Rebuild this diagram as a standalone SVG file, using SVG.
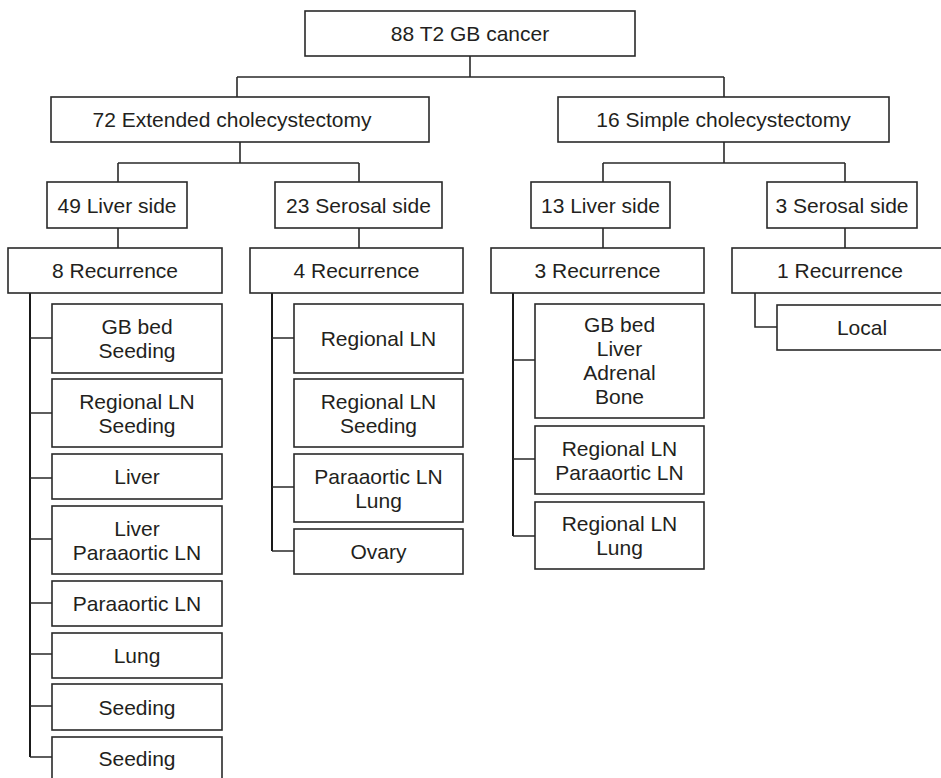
<svg xmlns="http://www.w3.org/2000/svg" width="941" height="778" viewBox="0 0 941 778">
<style>
rect{fill:#fff;stroke:#2a2a2a;stroke-width:1.6}
text{font-family:"Liberation Sans",Arial,sans-serif;font-size:21px;fill:#231f20;text-anchor:middle}
.c{fill:none;stroke:#2a2a2a;stroke-width:1.6}
.t{fill:none;stroke:#1a1a1a;stroke-width:2}
</style>
<rect x="0" y="0" width="941" height="778" style="fill:#fff;stroke:none"/>
<g id="connectors">
<path class="c" d="M470,56V77M237,77H724M237,77V97M724,77V97"/>
<path class="c" d="M240,142V163M118,163H359M118,163V182M359,163V182"/>
<path class="c" d="M724,142V163M603,163H845M603,163V182M845,163V182"/>
<path class="c" d="M118,228V248M359,228V248M603,228V248M845,228V248"/>
<path class="t" d="M30,293V757"/>
<path class="c" d="M30,338H52M30,413H52M30,478H52M30,539H52M30,603H52M30,654H52M30,706H52M30,757H52"/>
<path class="t" d="M272,293V551"/>
<path class="c" d="M272,338H294M272,487H294M272,551H294"/>
<path class="t" d="M513,293V536"/>
<path class="c" d="M513,360H535M513,459H535M513,536H535"/>
<path class="c" d="M755,293V327H777"/>
</g>
<g id="root"><rect x="305" y="11" width="330" height="45"/><text x="470" y="41">88 T2 GB cancer</text></g>
<g id="extended"><rect x="51" y="97" width="378" height="45"/><text x="232" y="127">72 Extended cholecystectomy</text></g>
<g id="simple"><rect x="558" y="97" width="331" height="45"/><text x="723.5" y="127">16 Simple cholecystectomy</text></g>
<g id="ext-liver"><rect x="47" y="182" width="140" height="46"/><text x="117" y="212.5">49 Liver side</text></g>
<g id="ext-serosal"><rect x="275" y="182" width="167" height="46"/><text x="358.5" y="212.5">23 Serosal side</text></g>
<g id="sim-liver"><rect x="531" y="182" width="139" height="46"/><text x="600.5" y="212.5">13 Liver side</text></g>
<g id="sim-serosal"><rect x="767" y="182" width="150" height="46"/><text x="842" y="212.5">3 Serosal side</text></g>
<g id="rec8"><rect x="8" y="248" width="214" height="45"/><text x="115" y="278">8 Recurrence</text></g>
<g id="rec4"><rect x="250" y="248" width="213" height="45"/><text x="356.5" y="278">4 Recurrence</text></g>
<g id="rec3"><rect x="491" y="248" width="213" height="45"/><text x="597.5" y="278">3 Recurrence</text></g>
<g id="rec1"><rect x="732" y="248" width="216" height="45"/><text x="840" y="278">1 Recurrence</text></g>
<g id="a1"><rect x="52" y="304" width="170" height="69"/><text x="137" y="334">GB bed</text><text x="137" y="358">Seeding</text></g>
<g id="a2"><rect x="52" y="379" width="170" height="68"/><text x="137" y="408.5">Regional LN</text><text x="137" y="432.5">Seeding</text></g>
<g id="a3"><rect x="52" y="454" width="170" height="45"/><text x="137" y="484">Liver</text></g>
<g id="a4"><rect x="52" y="506" width="170" height="68"/><text x="137" y="535.5">Liver</text><text x="137" y="559.5">Paraaortic LN</text></g>
<g id="a5"><rect x="52" y="581" width="170" height="45"/><text x="137" y="611">Paraaortic LN</text></g>
<g id="a6"><rect x="52" y="633" width="170" height="45"/><text x="137" y="663">Lung</text></g>
<g id="a7"><rect x="52" y="684" width="170" height="46"/><text x="137" y="714.5">Seeding</text></g>
<g id="a8"><rect x="52" y="737" width="170" height="50"/><text x="137" y="766">Seeding</text></g>
<g id="b1"><rect x="294" y="304" width="169" height="69"/><text x="378.5" y="346">Regional LN</text></g>
<g id="b2"><rect x="294" y="379" width="169" height="68"/><text x="378.5" y="408.5">Regional LN</text><text x="378.5" y="432.5">Seeding</text></g>
<g id="b3"><rect x="294" y="454" width="169" height="68"/><text x="378.5" y="483.5">Paraaortic LN</text><text x="378.5" y="507.5">Lung</text></g>
<g id="b4"><rect x="294" y="529" width="169" height="45"/><text x="378.5" y="559">Ovary</text></g>
<g id="c1"><rect x="535" y="304" width="169" height="114"/><text x="619.5" y="332">GB bed</text><text x="619.5" y="356">Liver</text><text x="619.5" y="380">Adrenal</text><text x="619.5" y="404">Bone</text></g>
<g id="c2"><rect x="535" y="426" width="169" height="68"/><text x="619.5" y="455.5">Regional LN</text><text x="619.5" y="479.5">Paraaortic LN</text></g>
<g id="c3"><rect x="535" y="502" width="169" height="67"/><text x="619.5" y="531">Regional LN</text><text x="619.5" y="555">Lung</text></g>
<g id="d1"><rect x="777" y="305" width="170" height="45"/><text x="862" y="335">Local</text></g>
</svg>
